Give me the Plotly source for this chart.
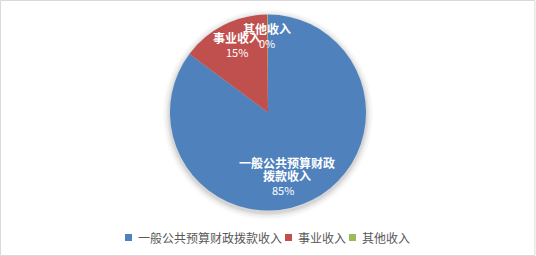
import plotly.graph_objects as go

# Data
categories = ["一般公共预算财政拨款收入", "事业收入", "其他收入"]
values = [85.2, 14.7, 0.1]
colors = ["#4F81BD", "#C0504D", "#9BBB59"]
# label display names (wrapped as in reference)
label_lines = [["一般公共预算财政", "拨款收入"], ["事业收入"], ["其他收入"]]

total = sum(values)
pcts = [f"{round(v / total * 100)}%" for v in values]

FONT = "Noto Sans CJK SC"
W, H = 536, 256
CX, CY, R = 268, 112.5, 98

def dom(r, dx=0.0, dy=0.0):
    return dict(x=[(CX - r + dx) / W, (CX + r + dx) / W],
                y=[1 - (CY + r + dy) / H, 1 - (CY - r + dy) / H])

fig = go.Figure()
# soft drop shadow (Excel style effect)
for extra, alpha in [(7, 0.025), (5, 0.035), (3, 0.05), (1.5, 0.06)]:
    fig.add_trace(go.Pie(
        values=[1], labels=["shadow"], sort=False, showlegend=False,
        marker=dict(colors=[f"rgba(0,0,0,{alpha})"], line=dict(width=0)),
        textinfo="none", hoverinfo="skip", domain=dom(R + extra, 0, 2),
    ))

fig.add_trace(go.Pie(
    labels=categories,
    values=values,
    sort=False,
    direction="clockwise",
    rotation=0,
    marker=dict(colors=colors, line=dict(width=0)),
    textinfo="none",
    hoverinfo="label+percent",
    showlegend=False,
    domain=dom(R),
))

# Data labels (positioned like Excel's best-fit labels)
label_pos = [(287, 162, 283, 190), (237, 37, 237, 52), (267, 28, 267, 43)]
annotations = []
for lines, pct, (nx, ny, px, py) in zip(label_lines, pcts, label_pos):
    for i, line in enumerate(lines):
        annotations.append(dict(
            x=nx / W, y=1 - (ny + i * 13.5) / H, xref="paper", yref="paper",
            text=f"<b>{line}</b>", showarrow=False, xanchor="center", yanchor="middle",
            font=dict(family=FONT, size=12, color="white"),
        ))
    annotations.append(dict(
        x=px / W, y=1 - py / H, xref="paper", yref="paper",
        text=pct, showarrow=False, xanchor="center", yanchor="middle",
        font=dict(family=FONT, size=11, color="white"),
    ))

# Legend (Excel-like compact layout): key squares + texts
legend_key_x = [125, 285, 349]
legend_y = 237.5
shapes = [dict(type="rect", xref="paper", yref="paper", x0=0.001, y0=0.002, x1=0.998, y1=0.998,
               line=dict(color="#D9D9D9", width=1))]
for kx, cat, col in zip(legend_key_x, categories, colors):
    shapes.append(dict(type="rect", xref="paper", yref="paper",
                       x0=kx / W, x1=(kx + 7) / W,
                       y0=1 - (legend_y + 3.5) / H, y1=1 - (legend_y - 3.5) / H,
                       fillcolor=col, line=dict(width=0)))
    annotations.append(dict(
        x=(kx + 10.5) / W, y=1 - legend_y / H, xref="paper", yref="paper",
        text=cat, showarrow=False, xanchor="left", yanchor="middle",
        font=dict(family=FONT, size=12, color="#595959"),
    ))

fig.update_layout(
    width=W, height=H,
    margin=dict(l=0, r=0, t=0, b=0),
    paper_bgcolor="white",
    plot_bgcolor="white",
    font=dict(family=FONT, size=12, color="#595959"),
    showlegend=False,
    annotations=annotations,
    shapes=shapes,
)

fig.write_html("out.html")
